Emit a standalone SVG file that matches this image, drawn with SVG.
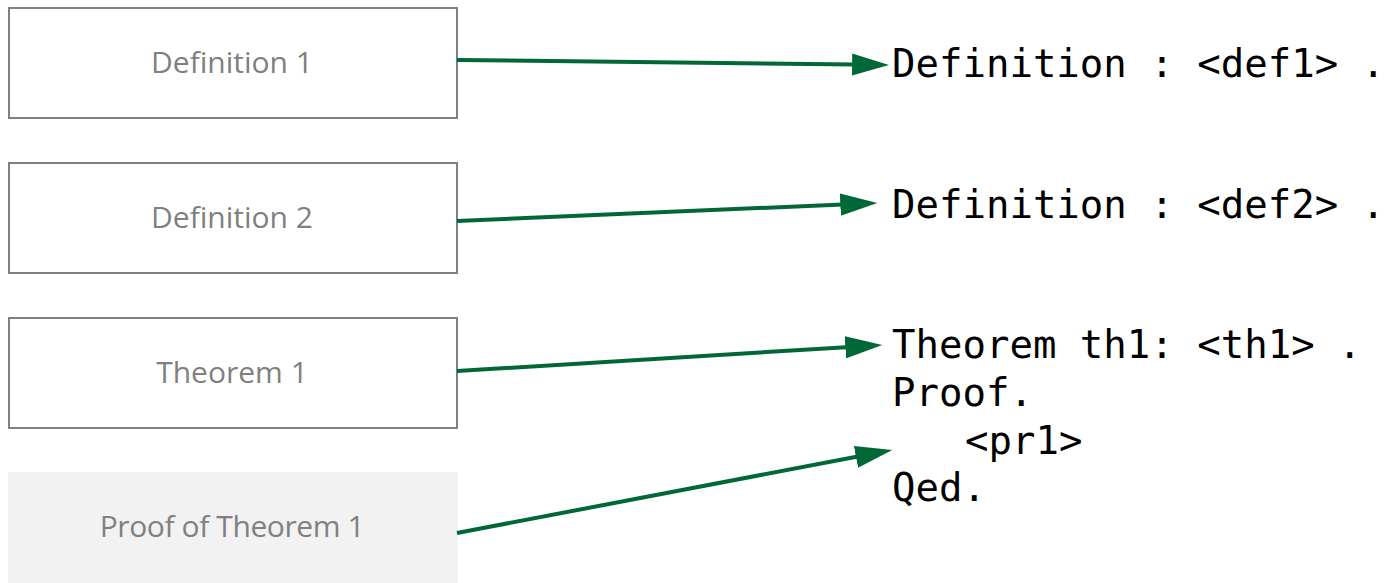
<svg xmlns="http://www.w3.org/2000/svg" width="1386" height="583" viewBox="0 0 1386 583">
  <style>
    .box { fill: #ffffff; stroke: #808080; stroke-width: 2; }
    .box-filled { fill: #f2f2f2; stroke: none; }
    .label { font-family: "Open Sans", "Noto Sans", sans-serif; font-size: 30px; fill: #808080; text-anchor: middle; }
    .tight { letter-spacing: -0.4px; }
    .code { font-family: "DejaVu Sans Mono", "Liberation Mono", monospace; font-size: 39px; fill: #000000; white-space: pre; }
    .conn { stroke: #006837; stroke-width: 4; fill: none; marker-end: url(#arrow); }
  </style>
  <defs>
    <marker id="arrow" viewBox="0 0 10 6" markerWidth="9.25" markerHeight="5.55" refX="7" refY="3" orient="auto" markerUnits="strokeWidth">
      <path d="M0,0 L10,3 L0,6 z" fill="#006837"/>
    </marker>
  </defs>
  <rect width="1386" height="583" fill="#ffffff"/>

  <g id="node-def1">
    <rect class="box" x="9" y="8" width="448" height="110"/>
    <text class="label" x="232" y="73">Definition 1</text>
  </g>
  <g id="node-def2">
    <rect class="box" x="9" y="163" width="448" height="110"/>
    <text class="label" x="232" y="228">Definition 2</text>
  </g>
  <g id="node-th1">
    <rect class="box" x="9" y="318" width="448" height="110"/>
    <text class="label" x="232" y="383">Theorem 1</text>
  </g>
  <g id="node-proof1">
    <rect class="box-filled" x="8" y="472" width="450" height="111"/>
    <text class="label tight" x="232" y="537">Proof of Theorem 1</text>
  </g>

  <g id="code">
    <text class="code" x="892" y="77" xml:space="preserve">Definition : &lt;def1&gt; .</text>
    <text class="code" x="892" y="218" xml:space="preserve">Definition : &lt;def2&gt; .</text>
    <text class="code" x="892" y="358" xml:space="preserve">Theorem th1: &lt;th1&gt; .</text>
    <text class="code" x="892" y="406" xml:space="preserve">Proof.</text>
    <text class="code" x="965" y="454" xml:space="preserve">&lt;pr1&gt;</text>
    <text class="code" x="892" y="501" xml:space="preserve">Qed.</text>
  </g>

  <g id="connectors">
    <line class="conn" x1="457" y1="60" x2="878" y2="64.8"/>
    <line class="conn" x1="457" y1="221" x2="866.2" y2="203.5"/>
    <line class="conn" x1="457" y1="371" x2="871.2" y2="345.7"/>
    <line class="conn" x1="457" y1="533" x2="881.4" y2="452"/>
  </g>
</svg>
